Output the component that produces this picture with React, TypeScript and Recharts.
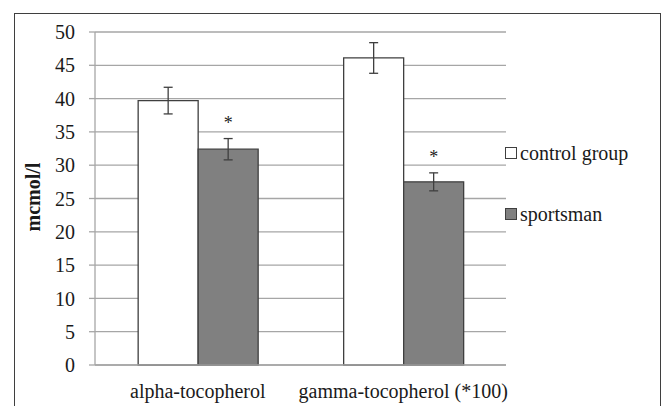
import React from 'react';
import { BarChart, Bar, XAxis, YAxis, CartesianGrid, ErrorBar, LabelList, Legend } from 'recharts';

const categories = ['alpha-tocopherol', 'gamma-tocopherol (*100)'];
const controlValues = [39.7, 46.1];
const controlErrors = [2.0, 2.3];
const sportsmanValues = [32.4, 27.5];
const sportsmanErrors = [1.6, 1.35];
const significance = ['*', '*'];
const yTicks = [0, 5, 10, 15, 20, 25, 30, 35, 40, 45, 50];
const seriesNames = ['control group', 'sportsman'];

const data = categories.map((c, i) => ({
  name: c,
  control: controlValues[i],
  controlErr: controlErrors[i],
  sportsman: sportsmanValues[i],
  sportsmanErr: sportsmanErrors[i],
  sig: significance[i],
}));

const FONT = 'Liberation Serif, Tinos, Times New Roman, DejaVu Serif, serif';
const DARK = '#3f3f3f';
const GRID = '#a6a6a6';

const StarLabel = (props: any) => {
  const { x, y, width, height, value, index } = props;
  if (value == null || !height) return null;
  const pxPerUnit = height / value;
  const errTop = y - sportsmanErrors[index] * pxPerUnit;
  return (
    <text x={x + width / 2} y={errTop - 10} textAnchor="middle" fontSize={18} fontFamily={FONT} fill="#222">
      {significance[index]}
    </text>
  );
};

const LegendContent = () => {
  const fills = ['#ffffff', '#808080'];
  return (
    <div style={{ fontFamily: FONT, fontSize: 20, color: '#1a1a1a' }}>
      {seriesNames.map((n, i) => (
        <div key={n} style={{ display: 'flex', alignItems: 'center', height: 24, marginBottom: i === 0 ? 37 : 0 }}>
          <span style={{ display: 'inline-block', width: 10, height: 10, background: fills[i], border: `1.3px solid ${DARK}`, marginRight: 3 }} />
          <span style={{ whiteSpace: 'nowrap' }}>{n}</span>
        </div>
      ))}
    </div>
  );
};

export default function App() {
  return (
    <div style={{ position: 'absolute', left: 0, top: 0, width: 665, height: 406, overflow: 'hidden', background: '#fff', fontFamily: FONT }}>
      <div style={{ position: 'absolute', left: 14, top: 13, width: 645, height: 420, border: `1.5px solid ${DARK}` }} />
      <div style={{ position: 'absolute', left: 0, top: 0 }}>
        <BarChart
          width={665}
          height={406}
          data={data}
          margin={{ top: 32, right: 159, left: 0, bottom: 0 }}
          barCategoryGap="21%"
          barGap={0}
          style={{ fontFamily: FONT }}
        >
          <CartesianGrid vertical={false} stroke={GRID} strokeWidth={1.3} />
          <XAxis xAxisId="bnd" type="number" domain={[0, 2]} ticks={[0, 1, 2]} tick={false} height={0}
            axisLine={false} tickLine={{ stroke: GRID, strokeWidth: 1.3 }} tickSize={5} />
          <XAxis dataKey="name" height={41} tickLine={false} tickSize={0} tickMargin={19}
            axisLine={{ stroke: GRID, strokeWidth: 1.3 }}
            tick={{ fontSize: 20, fontFamily: FONT, fill: '#1a1a1a' }} interval={0} />
          <YAxis width={95} domain={[0, 50]} ticks={yTicks} interval={0}
            axisLine={{ stroke: GRID, strokeWidth: 1.3 }}
            tickLine={{ stroke: GRID, strokeWidth: 1.3 }} tickSize={6} tickMargin={14}
            tick={{ fontSize: 20, fontFamily: FONT, fill: '#1a1a1a' }}
            label={{
              content: () => (
                <text x={33} y={197} transform="rotate(-90, 33, 197)" textAnchor="middle" dominantBaseline="central"
                  fontSize={20} fontWeight="bold" fontFamily={FONT} fill="#1a1a1a">mcmol/l</text>
              ),
            }}
          />
          <Legend layout="horizontal" verticalAlign="middle" align="center" content={<LegendContent />}
            wrapperStyle={{ position: 'absolute', left: 505, top: 141, width: 160 }} />
          <Bar dataKey="control" name={seriesNames[0]} fill="#ffffff" stroke={DARK} strokeWidth={1.3} isAnimationActive={false}>
            <ErrorBar dataKey="controlErr" width={4.5} stroke={DARK} strokeWidth={1.3} />
          </Bar>
          <Bar dataKey="sportsman" name={seriesNames[1]} fill="#808080" stroke={DARK} strokeWidth={1.3} isAnimationActive={false}>
            <ErrorBar dataKey="sportsmanErr" width={4.5} stroke={DARK} strokeWidth={1.3} />
            <LabelList dataKey="sportsman" content={<StarLabel />} />
          </Bar>
        </BarChart>
      </div>
    </div>
  );
}
